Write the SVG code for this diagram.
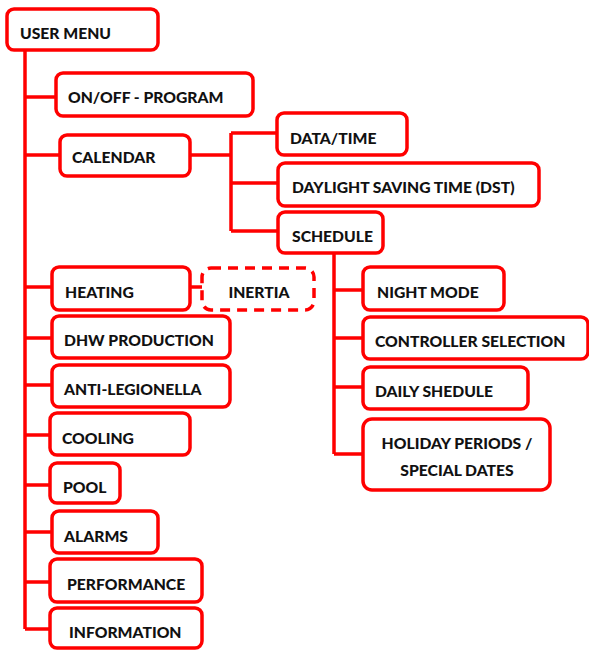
<svg xmlns="http://www.w3.org/2000/svg" width="589" height="650" viewBox="0 0 589 650">
<style>
.box{fill:#fff;stroke:#ff0000;stroke-width:3.5}
.dash{fill:#fff;stroke:#ff0000;stroke-width:3.5;stroke-dasharray:10 7}
.ln{fill:none;stroke:#ff0000;stroke-width:3.5}
text{font-family:Lato,"Liberation Sans",sans-serif;font-weight:900;font-size:15.7px;fill:#111}
</style>
<rect width="589" height="650" fill="#fff"/>
<g id="connectors">
<path class="ln" d="M25 50V629"/>
<path class="ln" d="M25 97H56M25 155H60M25 287H52M25 338H52M25 385H52M25 435H50M25 485H50M25 532H52M25 582H50M25 629H50"/>
<path class="ln" d="M190 155H231M231 133V231M231 133H277M231 183H278M231 231H278"/>
<path class="ln" d="M190 287H202"/>
<path class="ln" d="M334 253V454M334 290H363M334 338H363M334 387H363M334 454H363"/>
</g>
<g id="user-menu"><rect class="box" x="7" y="9" width="151" height="41" rx="7"/><text x="20" y="39">USER MENU</text></g>
<g id="onoff"><rect class="box" x="56" y="73" width="197" height="43" rx="7"/><text x="68" y="103">ON/OFF - PROGRAM</text></g>
<g id="calendar"><rect class="box" x="60" y="135" width="130" height="41" rx="7"/><text x="72" y="163">CALENDAR</text></g>
<g id="datatime"><rect class="box" x="277" y="113" width="130" height="42" rx="7"/><text x="290" y="144">DATA/TIME</text></g>
<g id="dst"><rect class="box" x="278" y="163" width="261" height="43" rx="7"/><text x="292" y="193">DAYLIGHT SAVING TIME (DST)</text></g>
<g id="schedule"><rect class="box" x="278" y="212" width="105" height="41" rx="7"/><text x="292" y="242">SCHEDULE</text></g>
<g id="nightmode"><rect class="box" x="363" y="267" width="141" height="43" rx="7"/><text x="377" y="298">NIGHT MODE</text></g>
<g id="controller"><rect class="box" x="363" y="317" width="225" height="42" rx="7"/><text x="375" y="347">CONTROLLER SELECTION</text></g>
<g id="daily"><rect class="box" x="363" y="367" width="165" height="42" rx="7"/><text x="375" y="397">DAILY SHEDULE</text></g>
<g id="holiday"><rect class="box" x="363" y="419" width="187" height="71" rx="9"/><text x="457" y="449" text-anchor="middle">HOLIDAY PERIODS /</text><text x="457" y="476" text-anchor="middle">SPECIAL DATES</text></g>
<g id="heating"><rect class="box" x="52" y="267" width="138" height="43" rx="7"/><text x="65" y="298">HEATING</text></g>
<g id="inertia"><rect class="dash" x="202" y="268" width="112" height="42" rx="9"/><text x="259" y="298" text-anchor="middle">INERTIA</text></g>
<g id="dhw"><rect class="box" x="52" y="316" width="178" height="42" rx="7"/><text x="64" y="346">DHW PRODUCTION</text></g>
<g id="antileg"><rect class="box" x="52" y="365" width="178" height="42" rx="7"/><text x="64" y="395">ANTI-LEGIONELLA</text></g>
<g id="cooling"><rect class="box" x="50" y="413" width="140" height="42" rx="7"/><text x="62" y="444">COOLING</text></g>
<g id="pool"><rect class="box" x="50" y="463" width="70" height="40" rx="7"/><text x="63" y="493">POOL</text></g>
<g id="alarms"><rect class="box" x="52" y="511" width="106" height="42" rx="7"/><text x="64" y="542">ALARMS</text></g>
<g id="performance"><rect class="box" x="50" y="559" width="152" height="43" rx="7"/><text x="67" y="590">PERFORMANCE</text></g>
<g id="information"><rect class="box" x="50" y="608" width="152" height="40" rx="7"/><text x="69" y="638">INFORMATION</text></g>
</svg>
